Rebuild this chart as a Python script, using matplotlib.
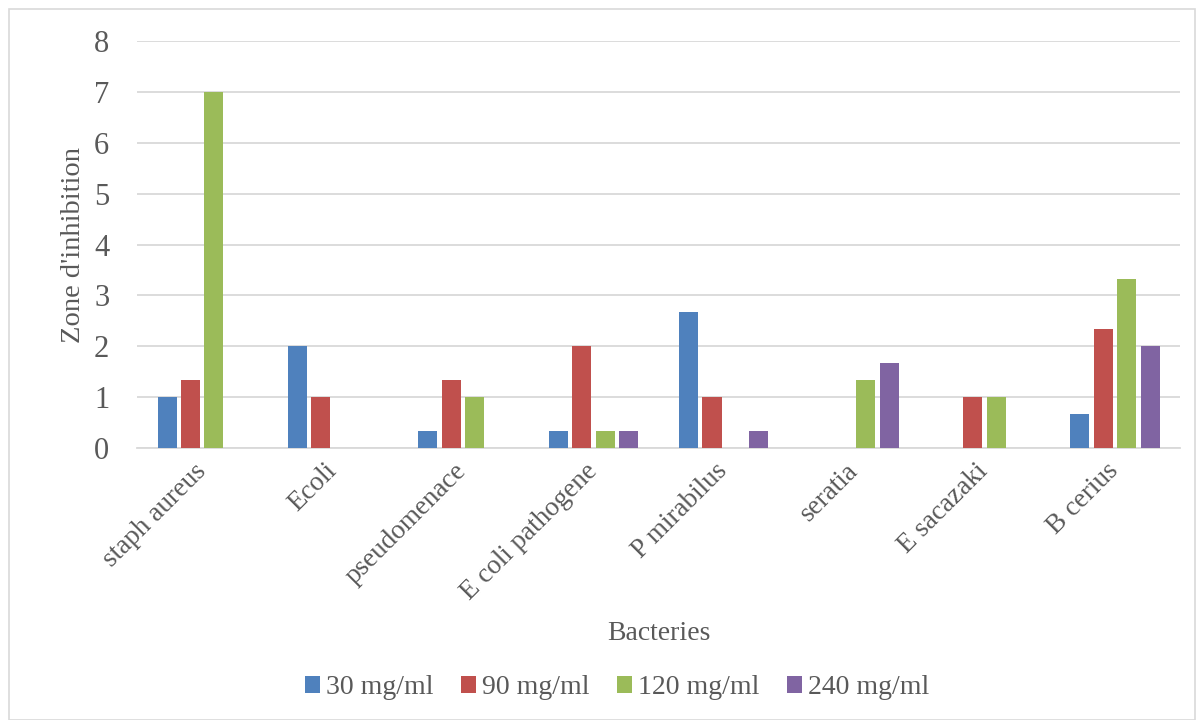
import matplotlib
matplotlib.use("Agg")
import matplotlib.pyplot as plt
from matplotlib.patches import Rectangle
import numpy as np

categories = ["staph aureus", "Ecoli", "pseudomenace", "E coli pathogene",
              "P mirabilus", "seratia", "E sacazaki", "B cerius"]
series_names = ["30 mg/ml", "90 mg/ml", "120 mg/ml", "240 mg/ml"]
vals_30 = [1.0, 2.0, 0.33, 0.33, 2.67, 0.0, 0.0, 0.67]
vals_90 = [1.33, 1.0, 1.33, 2.0, 1.0, 0.0, 1.0, 2.33]
vals_120 = [7.0, 0.0, 1.0, 0.33, 0.0, 1.33, 1.0, 3.33]
vals_240 = [0.0, 0.0, 0.0, 0.33, 0.33, 1.67, 0.0, 2.0]
yticks = [0, 1, 2, 3, 4, 5, 6, 7, 8]

colors = ["#4F81BD", "#C0504D", "#9BBB59", "#8064A2"]
text_color = "#595959"
plt.rcParams["font.family"] = ["Liberation Serif", "DejaVu Serif"]

fig = plt.figure(figsize=(11.98, 7.2), dpi=100)
ax = fig.add_axes([0.1144, 0.3778, 0.8706, 0.5652])

x = np.arange(len(categories))
slot = 0.18
width = 0.146
for j, (vals, name) in enumerate(zip([vals_30, vals_90, vals_120, vals_240], series_names)):
    ax.bar(x + (j - 1.5) * slot, vals, width=width, color=colors[j], label=name, zorder=3)

ax.set_xlim(-0.5, len(categories) - 0.5)
ax.set_ylim(0, 8)
ax.set_yticks(yticks)
ax.yaxis.grid(True, color="#D9D9D9", linewidth=1.3, zorder=0)
ax.set_axisbelow(True)
for s in ["top", "right", "left"]:
    ax.spines[s].set_visible(False)
ax.spines["bottom"].set_color("#D9D9D9")
ax.spines["bottom"].set_linewidth(1.3)
ax.tick_params(axis="y", length=0, pad=20, labelsize=22, labelcolor=text_color)
ax.tick_params(axis="x", length=0, pad=14, labelsize=19.5, labelcolor=text_color)
ax.set_xticks(x)
ax.set_xticklabels(categories, rotation=45, ha="right", va="center",
                   rotation_mode="anchor")
ax.set_ylabel("Zone d'inhibition", fontsize=20.5, color=text_color, labelpad=6)
ax.set_xlabel("Bacteries", fontsize=20, color=text_color, labelpad=12)

fig.legend(loc="center", bbox_to_anchor=(0.515, 0.045), ncol=4, frameon=False,
           fontsize=20, labelcolor=text_color, handlelength=0.55, handleheight=0.55,
           handletextpad=0.2, columnspacing=1.0)

fig.patches.append(Rectangle((0.0075, 0.0), 0.99, 0.987, transform=fig.transFigure,
                             fill=False, edgecolor="#D9D9D9", linewidth=1.2))

fig.savefig("out.png", dpi=100)
